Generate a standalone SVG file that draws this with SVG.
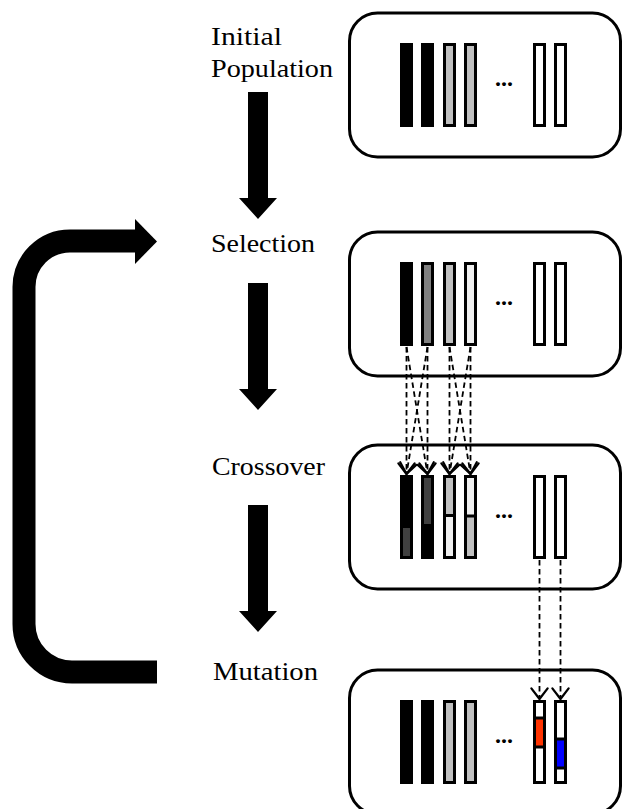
<svg xmlns="http://www.w3.org/2000/svg" width="622" height="809" viewBox="0 0 622 809">
  <style>
    .label { font-family: "Liberation Serif", "DejaVu Serif", serif; font-size: 26px; fill: #000; }
    .dots { font-family: "Liberation Serif", "DejaVu Serif", serif; font-size: 24px; font-weight: bold; fill: #000; }
    .panel { fill: #fff; stroke: #000; stroke-width: 3; }
    .bar { fill: none; stroke: #000; stroke-width: 3; }
    .sep { stroke: #000; stroke-width: 3; }
    .dash { fill: none; stroke: #000; stroke-width: 1.8; stroke-dasharray: 5.5 3.5; marker-end: url(#vhead); }
    .c-black { fill: #000; }
    .c-dark { fill: #404040; }
    .c-mid { fill: #808080; }
    .c-gray { fill: #c0c0c0; }
    .c-light { fill: #f0f0f0; }
    .c-white { fill: #fff; }
    .c-red { fill: #ff3300; }
    .c-blue { fill: #0000ff; }
  </style>
  <defs>
    <marker id="vhead" markerUnits="userSpaceOnUse" markerWidth="20" markerHeight="20" refX="0" refY="0" viewBox="-10 -8 12 16" orient="auto" overflow="visible">
      <path d="M -8.5 -6.5 L 0 0 L -8.5 6.5" fill="none" stroke="#000" stroke-width="1.8" stroke-linecap="round" stroke-linejoin="round"/>
    </marker>
  </defs>
  <rect width="622" height="809" fill="#fff"/>

  <!-- stage labels -->
  <g id="label-initial">
    <text class="label" x="211" y="45" textLength="71" lengthAdjust="spacingAndGlyphs">Initial</text>
    <text class="label" x="211" y="77" textLength="122" lengthAdjust="spacingAndGlyphs">Population</text>
  </g>
  <g id="label-selection">
    <text class="label" x="211" y="252" textLength="104" lengthAdjust="spacingAndGlyphs">Selection</text>
  </g>
  <g id="label-crossover">
    <text class="label" x="212" y="475" textLength="113" lengthAdjust="spacingAndGlyphs">Crossover</text>
  </g>
  <g id="label-mutation">
    <text class="label" x="213" y="680" textLength="105" lengthAdjust="spacingAndGlyphs">Mutation</text>
  </g>

  <!-- population panels -->
  <g id="pop-initial" transform="translate(0,13)">
    <rect class="panel" x="349.5" y="0" width="271" height="144" rx="28"/>
    <rect class="c-black" x="401.5" y="31.5" width="10" height="81"/>
    <rect class="c-black" x="422.5" y="31.5" width="10" height="81"/>
    <rect class="c-gray" x="444.5" y="31.5" width="10" height="81"/>
    <rect class="c-gray" x="465.5" y="31.5" width="10" height="81"/>
    <rect class="c-white" x="534.5" y="31.5" width="10" height="81"/>
    <rect class="c-white" x="555.5" y="31.5" width="10" height="81"/>
    <rect class="bar" x="401.5" y="31.5" width="10" height="81"/>
    <rect class="bar" x="422.5" y="31.5" width="10" height="81"/>
    <rect class="bar" x="444.5" y="31.5" width="10" height="81"/>
    <rect class="bar" x="465.5" y="31.5" width="10" height="81"/>
    <rect class="bar" x="534.5" y="31.5" width="10" height="81"/>
    <rect class="bar" x="555.5" y="31.5" width="10" height="81"/>
    <text class="dots" x="495" y="73">...</text>
  </g>

  <g id="pop-selection" transform="translate(0,232)">
    <rect class="panel" x="349.5" y="0" width="271" height="144" rx="28"/>
    <rect class="c-black" x="401.5" y="31.5" width="10" height="81"/>
    <rect class="c-mid" x="422.5" y="31.5" width="10" height="81"/>
    <rect class="c-gray" x="444.5" y="31.5" width="10" height="81"/>
    <rect class="c-light" x="465.5" y="31.5" width="10" height="81"/>
    <rect class="c-white" x="534.5" y="31.5" width="10" height="81"/>
    <rect class="c-white" x="555.5" y="31.5" width="10" height="81"/>
    <rect class="bar" x="401.5" y="31.5" width="10" height="81"/>
    <rect class="bar" x="422.5" y="31.5" width="10" height="81"/>
    <rect class="bar" x="444.5" y="31.5" width="10" height="81"/>
    <rect class="bar" x="465.5" y="31.5" width="10" height="81"/>
    <rect class="bar" x="534.5" y="31.5" width="10" height="81"/>
    <rect class="bar" x="555.5" y="31.5" width="10" height="81"/>
    <text class="dots" x="495" y="73">...</text>
  </g>

  <g id="pop-crossover" transform="translate(0,445)">
    <rect class="panel" x="349.5" y="0" width="271" height="144" rx="28"/>
    <!-- child 1: black head, dark tail -->
    <rect class="c-black" x="401.5" y="31.5" width="10" height="81"/>
    <rect class="c-dark" x="401.5" y="83" width="10" height="29.5"/>
    <!-- child 2: dark head, black tail -->
    <rect class="c-black" x="422.5" y="31.5" width="10" height="81"/>
    <rect class="c-dark" x="422.5" y="31.5" width="10" height="47.5"/>
    <!-- child 3 / child 4 -->
    <rect class="c-gray" x="444.5" y="31.5" width="10" height="39"/>
    <rect class="c-light" x="444.5" y="70.5" width="10" height="42"/>
    <rect class="c-light" x="465.5" y="31.5" width="10" height="39.5"/>
    <rect class="c-gray" x="465.5" y="71" width="10" height="41.5"/>
    <rect class="c-white" x="534.5" y="31.5" width="10" height="81"/>
    <rect class="c-white" x="555.5" y="31.5" width="10" height="81"/>
    <rect class="bar" x="401.5" y="31.5" width="10" height="81"/>
    <rect class="bar" x="422.5" y="31.5" width="10" height="81"/>
    <rect class="bar" x="444.5" y="31.5" width="10" height="81"/>
    <rect class="bar" x="465.5" y="31.5" width="10" height="81"/>
    <rect class="bar" x="534.5" y="31.5" width="10" height="81"/>
    <rect class="bar" x="555.5" y="31.5" width="10" height="81"/>
    <line class="sep" x1="443" y1="70.5" x2="456" y2="70.5"/>
    <line class="sep" x1="464" y1="71" x2="477" y2="71"/>
    <text class="dots" x="495" y="73">...</text>
  </g>

  <g id="pop-mutation" transform="translate(0,670)">
    <rect class="panel" x="349.5" y="0" width="271" height="144" rx="28"/>
    <rect class="c-black" x="401.5" y="31.5" width="10" height="81"/>
    <rect class="c-black" x="422.5" y="31.5" width="10" height="81"/>
    <rect class="c-gray" x="444.5" y="31.5" width="10" height="81"/>
    <rect class="c-gray" x="465.5" y="31.5" width="10" height="81"/>
    <rect class="c-white" x="534.5" y="31.5" width="10" height="81"/>
    <rect class="c-red" x="534.5" y="48" width="10" height="29"/>
    <rect class="c-white" x="555.5" y="31.5" width="10" height="81"/>
    <rect class="c-blue" x="555.5" y="69" width="10" height="29"/>
    <rect class="bar" x="401.5" y="31.5" width="10" height="81"/>
    <rect class="bar" x="422.5" y="31.5" width="10" height="81"/>
    <rect class="bar" x="444.5" y="31.5" width="10" height="81"/>
    <rect class="bar" x="465.5" y="31.5" width="10" height="81"/>
    <rect class="bar" x="534.5" y="31.5" width="10" height="81"/>
    <rect class="bar" x="555.5" y="31.5" width="10" height="81"/>
    <line class="sep" x1="533" y1="48" x2="546" y2="48"/>
    <line class="sep" x1="533" y1="77" x2="546" y2="77"/>
    <line class="sep" x1="554" y1="69" x2="567" y2="69"/>
    <line class="sep" x1="554" y1="98" x2="567" y2="98"/>
    <text class="dots" x="495" y="73">...</text>
  </g>

  <!-- connectors -->
  <g id="connectors">
    <!-- stage flow arrows -->
    <polygon fill="#000" points="248,92 268,92 268,198 277,198 258,219 239,198 248,198"/>
    <polygon fill="#000" points="248,283 268,283 268,389 277,389 258,410 239,389 248,389"/>
    <polygon fill="#000" points="248,505 268,505 268,611 277,611 258,632 239,611 248,611"/>
    <!-- loop back from mutation to selection -->
    <path d="M 136 241 H 70 A 46 46 0 0 0 24 287 V 624 A 48 48 0 0 0 72 672 H 157" fill="none" stroke="#000" stroke-width="23"/>
    <polygon fill="#000" points="135,219 157,241.5 135,264"/>
    <!-- parent to child mappings -->
    <line class="dash" x1="406.5" y1="347" x2="406.5" y2="474"/>
    <line class="dash" x1="406.5" y1="347" x2="427.5" y2="474"/>
    <line class="dash" x1="427.5" y1="347" x2="427.5" y2="474"/>
    <line class="dash" x1="427.5" y1="347" x2="406.5" y2="474"/>
    <line class="dash" x1="449.5" y1="347" x2="449.5" y2="474"/>
    <line class="dash" x1="449.5" y1="347" x2="470.5" y2="474"/>
    <line class="dash" x1="470.5" y1="347" x2="470.5" y2="474"/>
    <line class="dash" x1="470.5" y1="347" x2="449.5" y2="474"/>
    <line class="dash" x1="539.5" y1="560" x2="539.5" y2="699"/>
    <line class="dash" x1="560.5" y1="560" x2="560.5" y2="699"/>
  </g>
</svg>
